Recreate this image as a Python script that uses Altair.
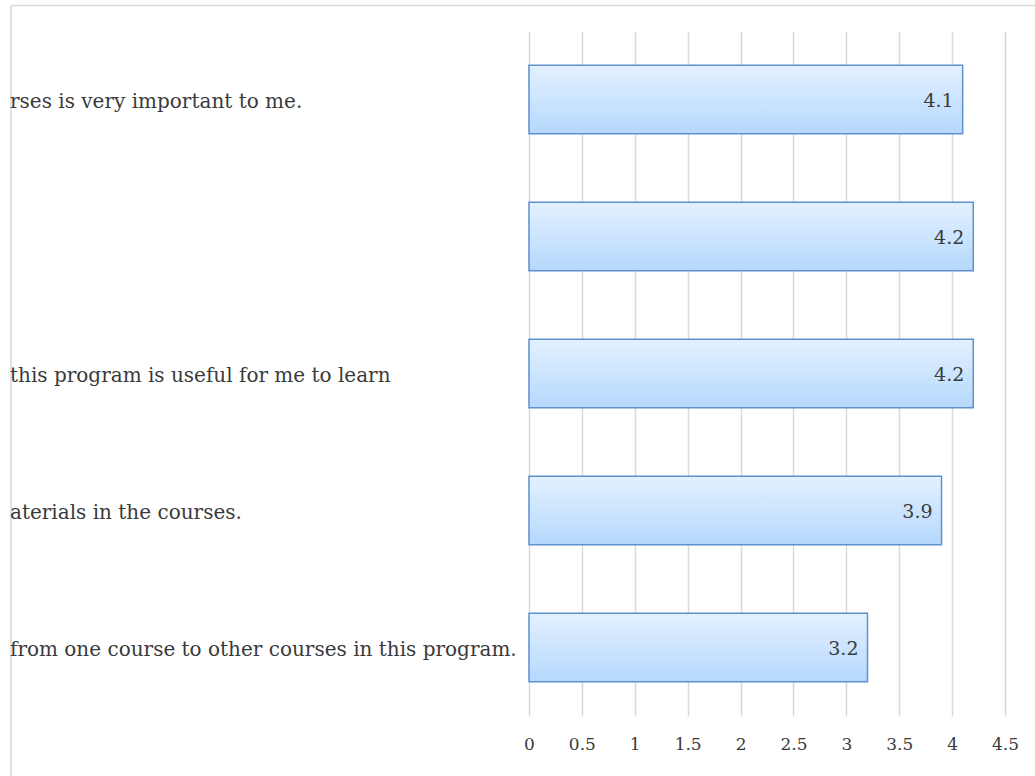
import altair as alt
import pandas as pd

labels = [
    "rses is very important to me.",
    "",
    "this program is useful for me to learn",
    "aterials in the courses.",
    "from one course to other courses in this program.",
]
values = [4.1, 4.2, 4.2, 3.9, 3.2]
value_text = ["4.1", "4.2", "4.2", "3.9", "3.2"]
ticks = [0, 0.5, 1, 1.5, 2, 2.5, 3, 3.5, 4, 4.5]

df = pd.DataFrame({
    "idx": list(range(len(labels))),
    "label": labels,
    "value": values,
    "vtext": value_text,
})

FONT = "DejaVu Serif"

x_scale = alt.Scale(domain=[0, 4.5], nice=False, zero=True)
y_scale = alt.Scale(paddingInner=0.5, paddingOuter=0.25)

base = alt.Chart(df)

bars = base.mark_bar(
    color=alt.Gradient(
        gradient="linear",
        stops=[alt.GradientStop(color="#e3f1ff", offset=0),
               alt.GradientStop(color="#b5d8fd", offset=1)],
        x1=0, x2=0, y1=0, y2=1,
    ),
    stroke="#5f90d0",
    strokeWidth=1.5,
).encode(
    x=alt.X("value:Q", scale=x_scale,
            axis=alt.Axis(values=ticks, title=None, grid=True, gridColor="#d9d9d9",
                          gridWidth=1.5, ticks=False, domain=False,
                          labelFont=FONT, labelFontSize=17, labelColor="#3a3a3a",
                          labelPadding=20, labelFlush=False,
                          labelExpr="format(datum.value, '')")),
    y=alt.Y("idx:O", scale=y_scale, axis=None),
)

vals = base.mark_text(
    align="right", baseline="middle", dx=-9, dy=1, font=FONT, fontSize=19, color="#3a3a3a"
).encode(
    x=alt.X("value:Q", scale=x_scale),
    y=alt.Y("idx:O", scale=y_scale),
    text="vtext:N",
)

cats = base.mark_text(
    align="left", baseline="middle", dy=2, font=FONT, fontSize=20, color="#3a3a3a"
).encode(
    x=alt.value(-519),
    y=alt.Y("idx:O", scale=y_scale),
    text="label:N",
)

border_top = alt.Chart(pd.DataFrame({"a": [0]})).mark_rule(color="#d9d9d9", strokeWidth=1.5).encode(
    x=alt.value(-518), x2=alt.value(520), y=alt.value(-25.5)
)
border_left = alt.Chart(pd.DataFrame({"a": [0]})).mark_rule(color="#d9d9d9", strokeWidth=1.5).encode(
    x=alt.value(-518), y=alt.value(-25.5), y2=alt.value(760)
)

chart = alt.layer(border_top, border_left, bars, vals, cats).properties(
    width=476,
    height=685,
    padding={"left": 529, "top": 31, "right": 30, "bottom": 60},
    autosize=alt.AutoSizeParams(type="none"),
    background="white",
).configure_view(stroke=None)

chart.save("out.html", embed_options={"renderer": "svg", "actions": False})
